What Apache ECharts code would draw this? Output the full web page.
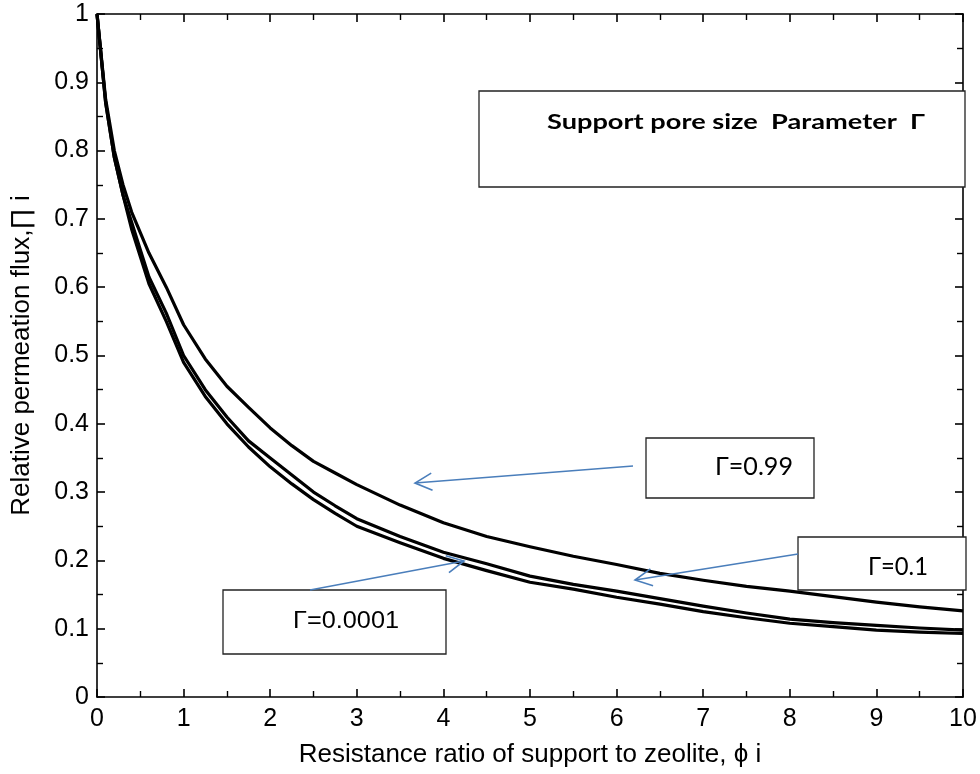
<!DOCTYPE html>
<html>
<head>
<meta charset="utf-8">
<script src="https://cdn.jsdelivr.net/npm/echarts@6/dist/echarts.min.js"></script>
<style>
  html, body { margin: 0; padding: 0; background: #fff; }
  #chart { width: 980px; height: 774px; }
</style>
</head>
<body>
<div id="chart"></div>
<script>
// Resistance ratio of support to zeolite (x)
const phi = [0, 0.1, 0.2, 0.3, 0.4, 0.5, 0.6, 0.8, 1.0, 1.25, 1.5, 1.75, 2.0, 2.25, 2.5, 2.75,
             3.0, 3.5, 4.0, 4.5, 5.0, 5.5, 6.0, 6.5, 7.0, 7.5, 8.0, 8.5, 9.0, 9.5, 10];

// Relative permeation flux for each support pore size parameter
const fluxGamma099 = [1.0, 0.875, 0.80, 0.75, 0.71, 0.68, 0.65, 0.60, 0.545, 0.495, 0.455, 0.424,
                      0.394, 0.368, 0.345, 0.328, 0.311, 0.281, 0.255, 0.235, 0.220, 0.206, 0.194,
                      0.181, 0.171, 0.162, 0.155, 0.147, 0.139, 0.132, 0.126];
const fluxGamma01 = [1.0, 0.87, 0.79, 0.735, 0.695, 0.655, 0.615, 0.562, 0.50, 0.45, 0.41, 0.375,
                     0.350, 0.325, 0.300, 0.280, 0.261, 0.235, 0.212, 0.195, 0.177, 0.165, 0.155,
                     0.144, 0.133, 0.123, 0.114, 0.109, 0.105, 0.101, 0.098];
const fluxGamma00001 = [1.0, 0.87, 0.79, 0.735, 0.685, 0.645, 0.605, 0.55, 0.49, 0.44, 0.40, 0.366,
                        0.337, 0.312, 0.289, 0.269, 0.250, 0.226, 0.203, 0.185, 0.168, 0.158, 0.146,
                        0.136, 0.125, 0.116, 0.108, 0.103, 0.098, 0.095, 0.093];

// Axis tick labels
const xTickLabels = ['0', '1', '2', '3', '4', '5', '6', '7', '8', '9', '10'];
const yTickLabels = ['0', '0.1', '0.2', '0.3', '0.4', '0.5', '0.6', '0.7', '0.8', '0.9', '1'];

const pairs = (ys) => phi.map((x, i) => [x, ys[i]]);

const AXIS_FONT = '"Liberation Sans", Arial, sans-serif';
const BOX_FONT = 'Lato, Calibri, sans-serif';
const ARROW_BLUE = '#4a7ebb';

function frameAxis(extra) {
  return Object.assign({
    type: 'value',
    axisLine: { show: true, onZero: false, lineStyle: { color: '#000', width: 1.6 } },
    axisTick: { show: true, inside: true, length: 8, lineStyle: { color: '#000', width: 1.6 } },
    minorTick: { show: true, splitNumber: 2, length: 6, lineStyle: { color: '#000', width: 1.4 } },
    splitLine: { show: false },
    minorSplitLine: { show: false }
  }, extra);
}

const chart = echarts.init(document.getElementById('chart'), null, { renderer: 'canvas' });

const lineSeries = (name, ys) => ({
  name: name,
  type: 'line',
  data: pairs(ys),
  showSymbol: false,
  smooth: false,
  lineStyle: { color: '#000', width: 3.2, join: 'round' },
  itemStyle: { color: '#000' },
  z: 3
});

const tickText = { color: '#000', fontSize: 25, fontFamily: AXIS_FONT };
const titleText = { color: '#000', fontSize: 26, fontFamily: AXIS_FONT };

chart.setOption({
  animation: false,
  backgroundColor: '#fff',
  grid: { left: 97, right: 17, top: 14, bottom: 77 },
  xAxis: [
    frameAxis({
      position: 'bottom', min: 0, max: 10, interval: 1,
      axisLabel: Object.assign({ margin: 10, formatter: (v) => xTickLabels[Math.round(v)] }, tickText),
      name: 'Resistance ratio of support to zeolite, \u03d5 i',
      nameLocation: 'middle', nameGap: 45,
      nameTextStyle: titleText
    }),
    frameAxis({ position: 'top', min: 0, max: 10, interval: 1, axisLabel: { show: false } })
  ],
  yAxis: [
    frameAxis({
      position: 'left', min: 0, max: 1, interval: 0.1,
      axisLabel: Object.assign({ margin: 8, formatter: (v) => yTickLabels[Math.round(v * 10)] }, tickText),
      name: 'Relative permeation flux,\u220f i',
      nameLocation: 'middle', nameGap: 62,
      nameTextStyle: titleText
    }),
    frameAxis({ position: 'right', min: 0, max: 1, interval: 0.1, axisLabel: { show: false } })
  ],
  series: [
    lineSeries('\u0393=0.99', fluxGamma099),
    lineSeries('\u0393=0.1', fluxGamma01),
    lineSeries('\u0393=0.0001', fluxGamma00001)
  ]
});

// Annotation boxes (text is stretched to span its intended width) and pointer arrows
const boxes = [
  { x: 479, y: 91, w: 486, h: 96, text: 'Support pore size  Parameter  \u0393', tx: 547, ty: 122, tw: 378,
    size: 21, weight: 'bold', family: BOX_FONT },
  { x: 646, y: 438, w: 168, h: 60, text: '\u0393=0.99', tx: 715, ty: 467, tw: 78,
    size: 25, weight: 'normal', family: BOX_FONT },
  { x: 798, y: 537, w: 168, h: 53, text: '\u0393=0.1', tx: 868, ty: 567, tw: 60,
    size: 25, weight: 'normal', family: BOX_FONT },
  { x: 223, y: 590, w: 223, h: 64, text: '\u0393=0.0001', tx: 293, ty: 622, tw: 106,
    size: 23, weight: 'normal', family: AXIS_FONT }
];
const arrows = [
  { from: [633, 466], to: [415, 483] },
  { from: [798, 554], to: [635, 580] },
  { from: [310, 590], to: [464, 561] }
];

const measureCtx = document.createElement('canvas').getContext('2d');
function textWidth(b) {
  measureCtx.font = b.weight + ' ' + b.size + 'px ' + b.family;
  return measureCtx.measureText(b.text).width;
}

function arrowHead(from, to, len, angleDeg) {
  const dx = from[0] - to[0], dy = from[1] - to[1];
  const d = Math.hypot(dx, dy);
  const ux = dx / d, uy = dy / d;
  const a = angleDeg * Math.PI / 180;
  const rot = (s) => [
    to[0] + len * (ux * Math.cos(s * a) - uy * Math.sin(s * a)),
    to[1] + len * (ux * Math.sin(s * a) + uy * Math.cos(s * a))
  ];
  return [rot(1), to, rot(-1)];
}

const graphics = [];
boxes.forEach((b) => {
  graphics.push({
    type: 'rect', z: 10,
    shape: { x: b.x, y: b.y, width: b.w, height: b.h },
    style: { fill: '#fff', stroke: '#222', lineWidth: 1.3 }
  });
  const sx = b.tw / textWidth(b);
  graphics.push({
    type: 'text', z: 11, x: b.tx, y: b.ty, scaleX: sx,
    style: {
      text: b.text, fontSize: b.size, fontWeight: b.weight, fontFamily: b.family,
      fill: '#000', align: 'left', verticalAlign: 'middle'
    }
  });
});
arrows.forEach((a) => {
  graphics.push({
    type: 'line', z: 12,
    shape: { x1: a.from[0], y1: a.from[1], x2: a.to[0], y2: a.to[1] },
    style: { stroke: ARROW_BLUE, lineWidth: 1.6 }
  });
  graphics.push({
    type: 'polyline', z: 12,
    shape: { points: arrowHead(a.from, a.to, 19, 27) },
    style: { stroke: ARROW_BLUE, lineWidth: 1.6, fill: null }
  });
});
chart.setOption({ graphic: graphics });
</script>
</body>
</html>
